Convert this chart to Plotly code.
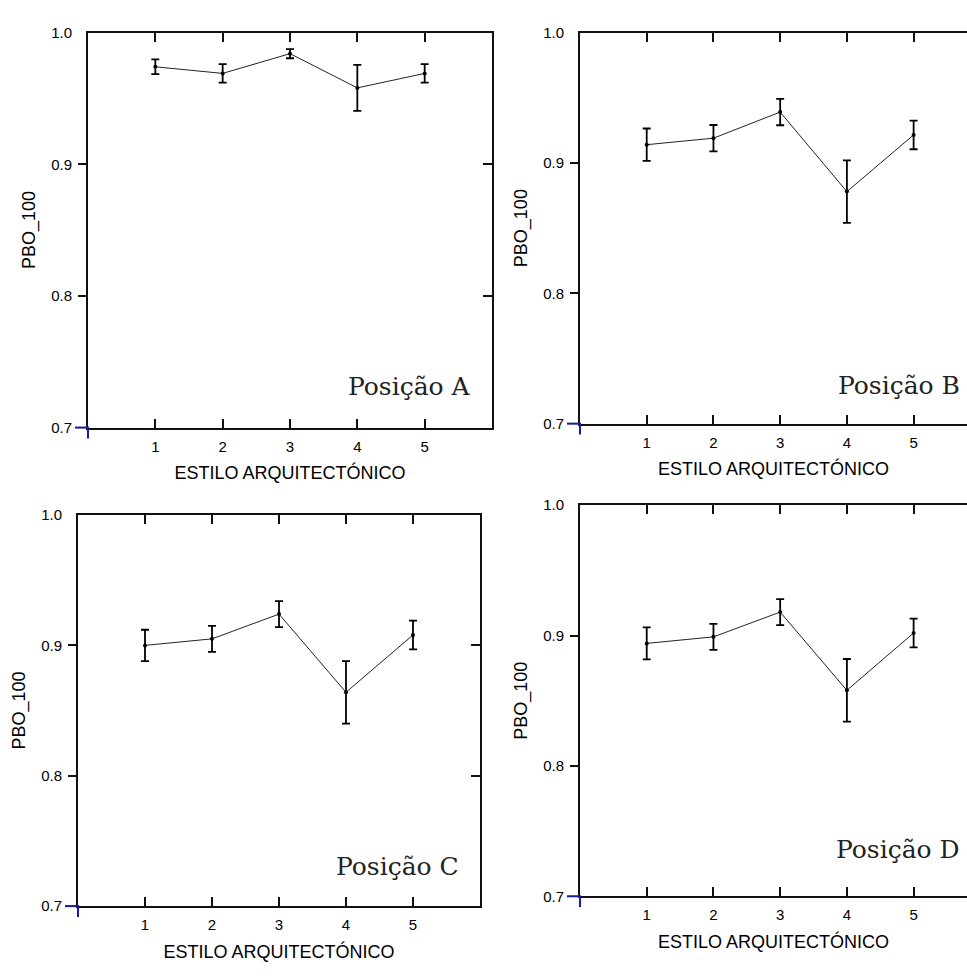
import plotly.graph_objects as go

# Architectural styles on the x axis
estilos = [1, 2, 3, 4, 5]
x_ticks = [1, 2, 3, 4, 5]
y_ticks = [0.7, 0.8, 0.9, 1.0]
y_tick_text = ["0.7", "0.8", "0.9", "1.0"]

# PBO_100 means and error half-widths for each measuring position
pbo_a = [0.974, 0.969, 0.984, 0.958, 0.969]
err_a = [0.0056, 0.007, 0.0035, 0.0175, 0.007]
pbo_b = [0.914, 0.919, 0.939, 0.878, 0.9215]
err_b = [0.0124, 0.0101, 0.0101, 0.024, 0.011]
pbo_c = [0.900, 0.905, 0.924, 0.864, 0.908]
err_c = [0.012, 0.010, 0.010, 0.024, 0.011]
pbo_d = [0.894, 0.899, 0.918, 0.858, 0.902]
err_d = [0.0123, 0.010, 0.010, 0.024, 0.011]

labels = ["Posição A", "Posição B", "Posição C", "Posição D"]
label_y = [0.731, 0.729, 0.730, 0.736]
series = [(pbo_a, err_a), (pbo_b, err_b), (pbo_c, err_c), (pbo_d, err_d)]

W, H = 967, 976
# panel boxes in pixels: left, right, top, bottom, x-range end, draw right border
boxes = [
    (88, 492, 24, 426, 6.0, True),
    (580, 967, 24, 422, 5.80, False),
    (78, 480, 515, 913, 6.0, True),
    (580, 967, 505, 903, 5.80, False),
]

AX_FONT = dict(family="Liberation Sans, Arial, sans-serif", size=15, color="#000")
TITLE_FONT = dict(family="Liberation Sans, Arial, sans-serif", size=18, color="#000")
NAVY = "#1818a0"

fig = go.Figure()
layout = {}
shapes = []
annotations = []

for i, ((pbo, err), box, lab, ly) in enumerate(zip(series, boxes, labels, label_y), start=1):
    left, right, top, bottom, xmax, right_border = box
    xd = [left / W, right / W]
    yd = [1 - bottom / H, 1 - top / H]
    xn = "x" if i == 1 else f"x{i}"
    yn = "y" if i == 1 else f"y{i}"
    xkey = "xaxis" if i == 1 else f"xaxis{i}"
    ykey = "yaxis" if i == 1 else f"yaxis{i}"

    fig.add_trace(go.Scatter(
        x=estilos, y=pbo,
        mode="lines+markers",
        line=dict(color="#222", width=1),
        marker=dict(size=4, color="black"),
        error_y=dict(type="data", array=err, color="black", thickness=1.8, width=4),
        xaxis=xn, yaxis=yn, showlegend=False,
    ))

    layout[xkey] = dict(
        domain=xd, anchor=yn, range=[0, xmax],
        tickvals=x_ticks, ticktext=[str(v) for v in x_ticks],
        ticks="inside", ticklen=9, tickwidth=2, tickcolor="#111",
        showline=True, linecolor="#111", linewidth=2, mirror="ticks",
        showgrid=False, zeroline=False,
        tickfont=AX_FONT, ticklabelstandoff=4,
        title=dict(text="ESTILO ARQUITECTÓNICO", font=TITLE_FONT, standoff=13),
    )
    layout[ykey] = dict(
        domain=yd, anchor=xn, range=[0.7, 1.0],
        tickvals=y_ticks, ticktext=y_tick_text,
        ticks="outside", ticklen=9, tickwidth=2, tickcolor="rgba(255,255,255,0)",
        showline=True, linecolor="#111", linewidth=2, mirror=right_border,
        showgrid=False, zeroline=False,
        tickfont=AX_FONT, ticklabelstandoff=2,
        title=dict(text="PBO_100", font=TITLE_FONT, standoff=11),
    )

    # visible left ticks (outside) at the inner values only
    layout[f"yaxis{4 + i}"] = dict(
        overlaying=yn, anchor=xn, side="left", range=[0.7, 1.0],
        tickvals=[0.8, 0.9], ticks="outside", ticklen=9, tickwidth=2, tickcolor="#111",
        showticklabels=False, showline=False, showgrid=False, zeroline=False,
    )
    fig.add_trace(go.Scatter(x=[], y=[], xaxis=xn, yaxis=f"y{4 + i}",
                             showlegend=False, hoverinfo="skip"))
    if right_border:
        # inward ticks on the right border
        layout[f"yaxis{8 + i}"] = dict(
            overlaying=yn, anchor=xn, side="right", range=[0.7, 1.0],
            tickvals=[0.8, 0.9], ticks="inside", ticklen=9, tickwidth=2, tickcolor="#111",
            showticklabels=False, showline=False, showgrid=False, zeroline=False,
        )
        fig.add_trace(go.Scatter(x=[], y=[], xaxis=xn, yaxis=f"y{8 + i}",
                                 showlegend=False, hoverinfo="skip"))

    # origin cross, just outside the lower-left corner
    ox, oy = left / W, 1 - bottom / H
    shapes.append(dict(type="line", xref="paper", yref="paper",
                       x0=(left - 13) / W, x1=(left + 1) / W, y0=oy, y1=oy,
                       line=dict(color=NAVY, width=2), layer="above"))
    shapes.append(dict(type="line", xref="paper", yref="paper",
                       x0=ox, x1=ox, y0=1 - (bottom + 11) / H, y1=oy,
                       line=dict(color=NAVY, width=2), layer="above"))

    annotations.append(dict(
        text=lab, xref=xn, yref=yn, x=5.72, y=ly, xanchor="right", yanchor="middle",
        showarrow=False,
        font=dict(family="DejaVu Serif, Liberation Serif, serif", size=25, color="#222"),
    ))

fig.update_layout(
    width=W, height=H,
    margin=dict(l=0, r=0, t=0, b=0),
    paper_bgcolor="white", plot_bgcolor="white",
    shapes=shapes, annotations=annotations,
    **layout,
)

fig.write_html("out.html")
